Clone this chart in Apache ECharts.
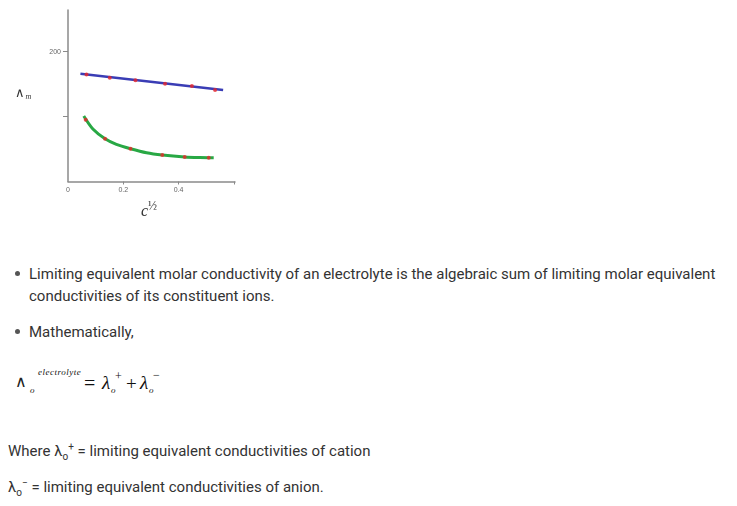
<!DOCTYPE html>
<html>
<head>
<meta charset="utf-8">
<script src="https://cdn.jsdelivr.net/npm/echarts@6/dist/echarts.min.js"></script>
<style>
  html, body { margin:0; padding:0; background:#fff; width:737px; height:506px; overflow:hidden; }
  #chart { position:absolute; left:0; top:0; width:260px; height:240px; }
  .t { position:absolute; font-family: Roboto, "Noto Sans", sans-serif; font-size:15px; color:#333; line-height:22px; white-space:nowrap; }
  .bul { position:absolute; width:5px; height:5px; border-radius:50%; background:#555; }
  .f { position:absolute; font-family: "Liberation Serif", "DejaVu Serif", serif; color:#111; white-space:nowrap; line-height:1; }
  .t sub, .t sup { font-size:10px; line-height:0; }
</style>
</head>
<body>
<div id="chart"></div>

<span class="bul" style="left:15px; top:271px;"></span>
<div class="t" style="left:29px; top:263px;">Limiting equivalent molar conductivity of an electrolyte is the algebraic sum of limiting molar equivalent<br>conductivities of its constituent ions.</div>
<span class="bul" style="left:15px; top:329px;"></span>
<div class="t" style="left:29px; top:321px;">Mathematically,</div>

<span class="f" style="left:15px; top:374px; font-size:16px; font-family:'DejaVu Sans'; font-weight:200; color:#222;">∧</span>
<span class="f" style="left:30px; top:386px; font-size:9px; font-style:italic;">o</span>
<span class="f" style="left:38px; top:368px; font-size:9px; font-style:italic; letter-spacing:0.5px;">electrolyte</span>
<span class="f" style="left:84px; top:373px; font-size:20px;">=</span>
<span class="f" style="left:102px; top:373px; font-size:19px; font-style:italic;">λ</span>
<span class="f" style="left:111px; top:386px; font-size:9px; font-style:italic;">o</span>
<span class="f" style="left:115px; top:370px; font-size:12px;">+</span>
<span class="f" style="left:126px; top:374px; font-size:19px;">+</span>
<span class="f" style="left:140px; top:373px; font-size:19px; font-style:italic;">λ</span>
<span class="f" style="left:149px; top:386px; font-size:9px; font-style:italic;">o</span>
<span class="f" style="left:153px; top:369px; font-size:12px;">−</span>

<div class="t" style="left:8px; top:440px;">Where λ<sub>o</sub><sup>+</sup> = limiting equivalent conductivities of cation</div>
<div class="t" style="left:8px; top:476px;">λ<sub>o</sub><sup>−</sup> = limiting equivalent conductivities of anion.</div>

<script>
// ---- data ----
const xTickValues = [0.2, 0.4, 0.6];
const xLabelValues = [0, 0.2, 0.4];
const yTickValues = [100, 200];
const yLabelValues = [200];

// upper (strong electrolyte) straight line: ends of drawn line
const strongLineX = [0.045, 0.561];
const strongLineY = [165.8, 140.8];
// measured points on upper line
const strongPtsX = [0.067, 0.151, 0.244, 0.351, 0.448, 0.532];
const strongPtsY = [164.9, 159.7, 155.7, 150.5, 146.9, 140.8];

// lower (weak electrolyte) curve
const weakLineX = [0.057, 0.090, 0.134, 0.175, 0.226, 0.284, 0.341, 0.422, 0.476, 0.527];
const weakLineY = [100.8, 80.8, 65.8, 57.2, 50.5, 44.3, 40.8, 37.7, 36.8, 36.5];
const weakPtsX = [0.064, 0.134, 0.226, 0.341, 0.422, 0.509];
const weakPtsY = [95.1, 65.8, 50.5, 40.8, 37.7, 36.6];

const zip = (a, b) => a.map((v, i) => [v, b[i]]);

const chart = echarts.init(document.getElementById('chart'), null, { renderer: 'canvas' });
const axisColor = '#8a8a8a';
chart.setOption({
  animation: false,
  grid: { left: 68, top: 10, right: 25, bottom: 58.5, containLabel: false },
  xAxis: {
    type: 'value', min: 0, max: 0.604,
    axisLine: { show: true, onZero: false, lineStyle: { color: axisColor, width: 1.5 } },
    axisTick: { show: true, customValues: xTickValues, length: 3, lineStyle: { color: axisColor } },
    axisLabel: { customValues: xLabelValues, fontSize: 7, color: '#666', margin: 5, fontFamily: 'Liberation Sans',
      formatter: v => (v === 0 ? '0' : String(v)) },
    splitLine: { show: false }
  },
  yAxis: {
    type: 'value', min: 0, max: 264,
    axisLine: { show: true, onZero: false, lineStyle: { color: axisColor, width: 1.5 } },
    axisTick: { show: true, customValues: yTickValues, length: 5, lineStyle: { color: axisColor } },
    axisLabel: { customValues: yLabelValues, fontSize: 7, color: '#666', margin: 7, fontFamily: 'Liberation Sans' },
    splitLine: { show: false }
  },
  graphic: [
    { type: 'text', left: 15, top: 87, style: { rich: { a: { fontSize: 13, fill: '#333', fontFamily: 'DejaVu Sans' }, m: { fontSize: 8, fill: '#333', fontStyle: 'italic', fontFamily: 'Liberation Serif', padding: [7, 0, 0, 1] } }, text: '{a|∧}{m|m}' } },
    { type: 'text', left: 141, top: 201, style: { rich: { c: { fontSize: 16, fill: '#333', fontStyle: 'italic', fontFamily: 'Liberation Serif', padding: [10, 0, 0, 0] }, h: { fontSize: 12, fill: '#333', fontFamily: 'Liberation Serif' } }, text: '{c|c}{h|½}' } }
  ],
  series: [
    { type: 'line', data: zip(strongLineX, strongLineY), showSymbol: false, lineStyle: { color: '#3a3db5', width: 2.5 }, z: 2 },
    { type: 'line', data: zip(weakLineX, weakLineY), smooth: 0.3, showSymbol: false, lineStyle: { color: '#28a844', width: 3 }, z: 2 },
    { type: 'scatter', data: zip(strongPtsX, strongPtsY), symbolSize: 4, itemStyle: { color: '#e8262a' }, z: 3 },
    { type: 'scatter', data: zip(weakPtsX, weakPtsY), symbolSize: 4, itemStyle: { color: '#e8262a' }, z: 3 }
  ]
});
</script>
</body>
</html>
